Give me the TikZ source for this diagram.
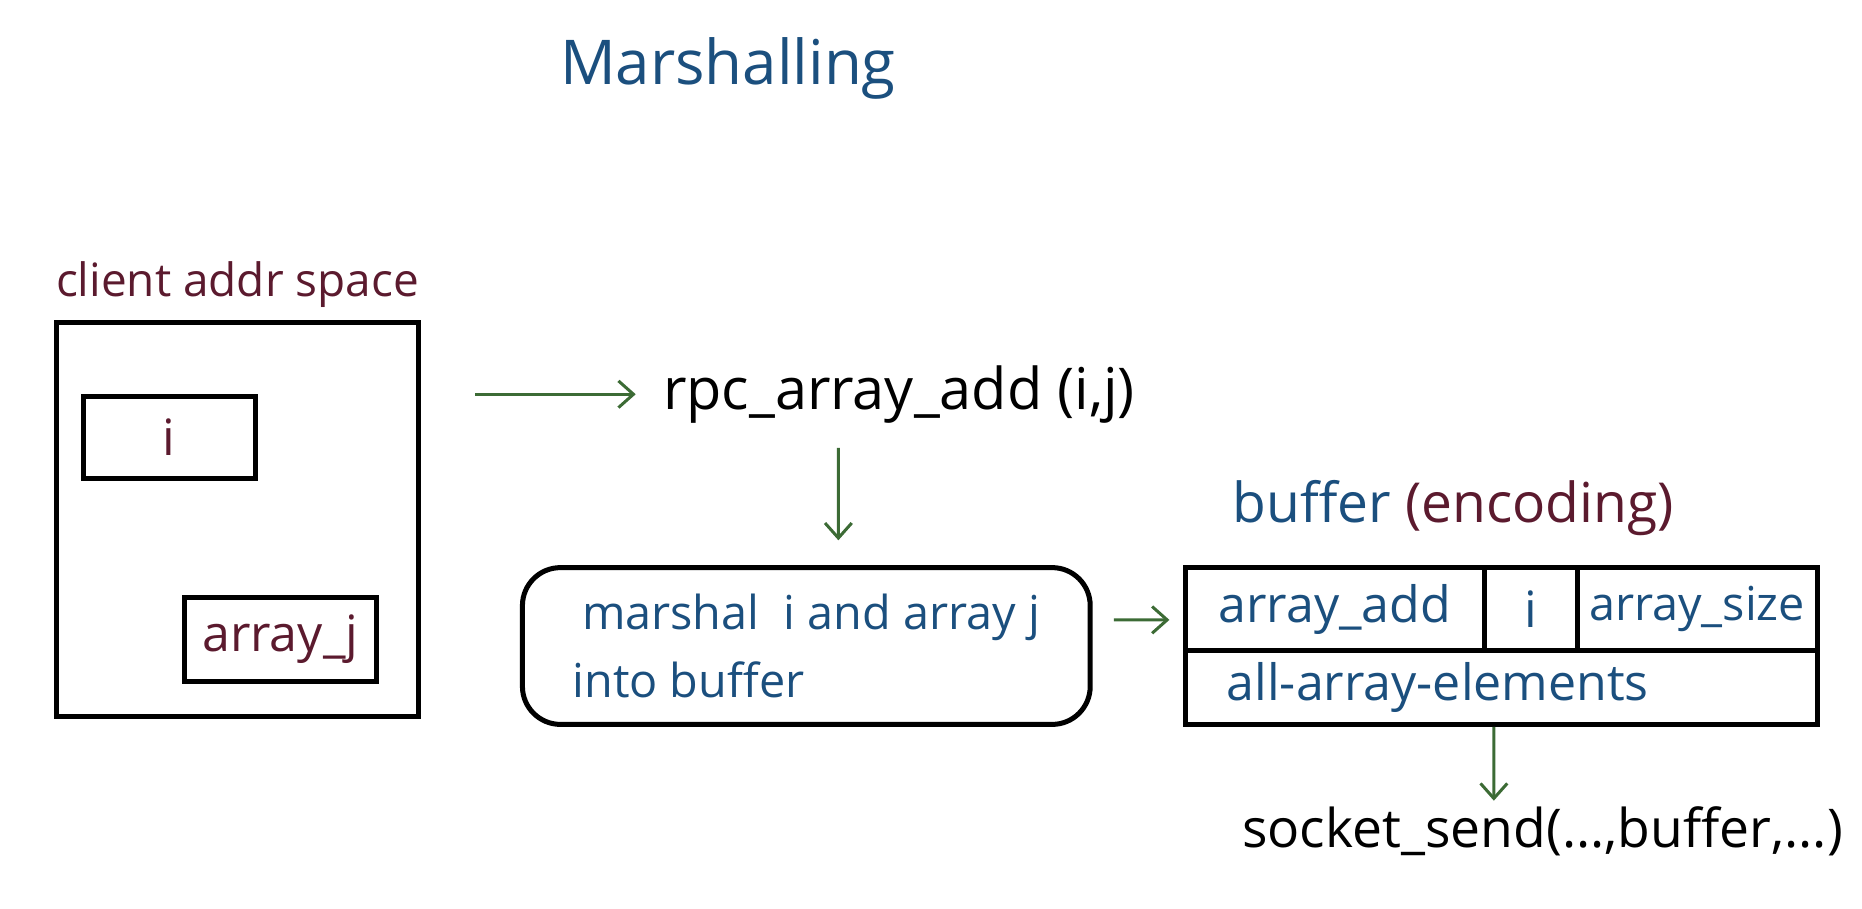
\documentclass[tikz,border=0pt]{standalone}
\usepackage{fontspec}
\setmainfont{Open Sans}
\usetikzlibrary{arrows.meta,positioning}
\definecolor{inkred}{HTML}{5B1A2E}
\definecolor{inkblue}{HTML}{1B4F7E}
\definecolor{inkgreen}{HTML}{3C6B35}
\tikzset{
  hand/.style={font=\fontsize{#1}{41}\selectfont},
  hand/.default=30,
  box/.style={draw, line width=3pt, inner sep=0pt, outer sep=0pt},
  arr/.style={inkgreen, line width=1.8pt, -{Straight Barb[length=9pt,width=16pt,line width=1.8pt]}},
}
\begin{document}
\begin{tikzpicture}[x=0.025cm,y=-0.025cm]
\useasboundingbox (0,0) rectangle (1568,765);
\node[hand=37, text=inkblue] (title) at (613,58) {Marshalling};
% client address space
\node[box, minimum width=7.6cm, minimum height=8.275cm] (client) at (200,437.5) {};
\node[hand=27.5, text=inkred, above=0.2cm of client] (clientlbl) {client addr space};
\node[box, hand, text=inkred, minimum width=3.625cm, minimum height=1.725cm] (vari) at (142.5,368.5) {i};
\node[box, hand, text=inkred, minimum width=4.05cm, minimum height=1.775cm] (varj) at (236,538.5) {array\_j};
% stub
\node[hand=34.5] (rpc) at (757,332) {rpc\_array\_add (i,j)};
\node[box, hand=28, text=inkblue, rounded corners=0.8cm, align=left, minimum width=11.95cm, minimum height=3.3cm] (marshal) at (679,544) {\hspace{0.2cm}marshal\ \ i and array j\\into buffer};
% buffer
\node[hand=33, anchor=west] (buflbl) at (1033,428) {\textcolor{inkblue}{buffer} \textcolor{inkred}{(encoding)}};
\node[box, hand, text=inkblue, minimum width=6.3cm, minimum height=1.75cm] (c1) at (1124,513) {array\_add};
\node[box, hand, text=inkblue, minimum width=1.95cm, minimum height=1.75cm, right=0pt of c1] (c2) {i};
\node[box, hand=28, text=inkblue, minimum width=5.05cm, minimum height=1.75cm, right=0pt of c2] (c3) {array\_size};
\node[box, hand, text=inkblue, anchor=north west, inner xsep=0.875cm, text width=11.55cm, align=left, minimum height=1.55cm] (elems) at (c1.south west) {all-array-elements};
\node[hand=32] (sock) at (1299,700) {socket\_send(...,buffer,...)};
% arrows
\draw[arr, shorten <=1.2cm, shorten >=0.45cm] (client.east |- rpc.west) -- (rpc.west);
\draw[arr, shorten <=0.4cm, shorten >=0.575cm] ([xshift=-1.275cm]rpc.south) -- ([xshift=0.675cm]marshal.north);
\draw[arr, shorten <=0.5cm, shorten >=0.33cm] ([yshift=0.55cm]marshal.east) -- ([yshift=-0.225cm]c1.west);
\draw[arr, shorten <=0.05cm] ([xshift=-0.15cm]elems.south) -- ([xshift=-1.025cm]sock.north);
\end{tikzpicture}
\end{document}
